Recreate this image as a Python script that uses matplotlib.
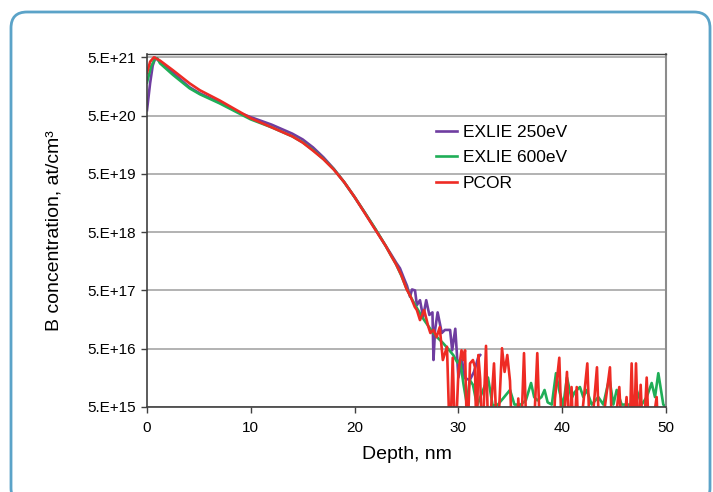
import matplotlib
matplotlib.use("Agg")
import matplotlib.pyplot as plt
from matplotlib.patches import FancyBboxPatch
from matplotlib.transforms import IdentityTransform
from matplotlib.ticker import FixedLocator, NullLocator

plt.rcParams['font.family'] = ['Liberation Sans', 'DejaVu Sans']

# ---------------- data ----------------
series_names = ["EXLIE 250eV", "EXLIE 600eV", "PCOR"]
series_colors = ["#6f3da0", "#1fae57", "#ee2b24"]

p_depth = [0.0, 0.3, 0.55, 0.8, 1.25, 2.5, 4.1, 5.1, 7.0, 9.0,
           10.0, 12.0, 14.0, 15.0, 16.0, 17.0, 18.0, 19.0, 20.0, 21.0,
           22.0, 23.0, 23.5, 24.0, 24.37, 24.76, 25.05, 25.34, 25.53, 25.82,
           26.0, 26.3, 26.6, 26.9, 27.2, 27.5, 27.6, 27.75, 28.0, 28.4,
           28.7, 29.2, 29.4, 29.7, 30.0, 30.35, 30.6, 31.1, 31.5, 31.9,
           32.1]
p_conc = [6.2e20, 1.8e21, 3.6e21, 4.9e21, 4.2e21, 2.7e21, 1.53e21, 1.2e21, 8.4e20, 5.5e20,
          4.7e20, 3.5e20, 2.45e20, 1.95e20, 1.42e20, 9.6e19, 6.1e19, 3.6e19, 2.0e19, 1.07e19,
          5.6e18, 2.9e18, 2.1e18, 1.5e18, 1.2e18, 8.0e17, 6.0e17, 3.9e17, 5.2e17, 5.0e17,
          2.8e17, 3.4e17, 1.75e17, 3.4e17, 1.9e17, 2.1e17, 3.2e16, 1.05e17, 2.1e17, 9.3e16,
          1.05e17, 1.05e17, 4.7e16, 1.1e17, 1.6e16, 3.2e16, 1.57e16, 1.45e16, 2.0e16, 3.5e16,
          3.9e16]

g_depth = [0.0, 0.4, 0.8, 1.0, 1.25, 2.5, 4.1, 5.1, 7.0, 9.0,
           10.0, 12.0, 14.0, 15.0, 16.0, 17.0, 18.0, 19.0, 20.0, 21.0,
           22.0, 23.0, 23.5, 24.0, 24.5, 25.0, 25.5, 26.0, 26.5, 27.0,
           27.5, 28.0, 28.5, 29.0, 29.5, 29.9, 30.15, 30.5, 30.8, 31.1,
           31.4, 31.8, 32.3, 32.85, 33.3, 33.8, 34.3, 34.97, 35.4, 36.0,
           36.5, 37.0, 37.3, 37.6, 38.0, 38.3, 38.6, 39.0, 39.4, 39.75,
           40.1, 40.46, 40.9, 41.2, 41.71, 42.03, 42.36, 42.84, 43.48, 43.96,
           44.54, 44.93, 45.25, 45.73, 46.69, 47.17, 47.66, 48.14, 48.62, 48.94,
           49.26, 49.74, 50.0]
g_conc = [1.85e21, 3.5e21, 4.8e21, 4.8e21, 3.95e21, 2.5e21, 1.47e21, 1.16e21, 8.1e20, 5.3e20,
          4.3e20, 3.15e20, 2.2e20, 1.74e20, 1.28e20, 9.0e19, 6.0e19, 3.6e19, 2.0e19, 1.07e19,
          5.7e18, 2.9e18, 2.0e18, 1.4e18, 9.0e17, 5.4e17, 3.6e17, 2.5e17, 1.75e17, 1.3e17,
          9.7e16, 7.7e16, 6.3e16, 5.0e16, 3.9e16, 2.9e16, 3.2e16, 1.2e16, 5.8e15, 1.45e16,
          1.2e16, 5.3e15, 9.0e15, 1.6e16, 5.3e15, 5.5e15, 7.0e15, 9.8e15, 5.5e15, 5.5e15,
          6.5e15, 1.29e16, 7.4e15, 6.5e15, 7.4e15, 9.8e15, 6.0e15, 5.5e15, 1.9e16, 9.0e15,
          5.3e15, 1.6e16, 7.0e15, 9.0e15, 1.1e16, 7.4e15, 9.8e15, 5.5e15, 7.4e15, 5.5e15,
          1.57e16, 5.5e15, 9.8e15, 5.5e15, 5.5e15, 9.8e15, 5.5e15, 7.4e15, 1.29e16, 7.4e15,
          1.9e16, 5.5e15, 5.0e15]

r_depth = [0.0, 0.3, 0.67, 1.25, 2.5, 4.1, 5.1, 7.0, 9.0, 10.0,
           12.0, 14.0, 15.0, 16.0, 17.0, 18.0, 19.0, 20.0, 21.0, 22.0,
           23.0, 23.5, 24.0, 24.5, 25.0, 25.4, 25.8, 26.0, 26.3, 26.7,
           27.1, 27.3, 27.6, 27.9, 28.2, 28.5, 28.9, 29.19, 29.45, 29.7,
           30.0, 30.3, 30.47, 30.64, 30.85, 31.12, 31.4, 31.6, 31.75, 31.92,
           32.1, 32.3, 32.66, 32.9, 33.43, 33.75, 34.2, 34.45, 34.71, 34.97,
           35.2, 35.6, 35.77, 36.0, 36.32, 36.6, 37.2, 37.6, 37.9, 39.1,
           39.3, 39.72, 40.0, 40.46, 40.7, 40.9, 41.1, 41.4, 41.6, 42.42,
           42.7, 43.35, 43.6, 44.6, 44.85, 45.5, 45.8, 46.2, 46.45, 46.69,
           46.9, 47.11, 47.35, 47.56, 47.8, 48.14, 48.4, 49.1, 49.3, 50.0]
r_conc = [2.7e21, 4.2e21, 5.0e21, 4.4e21, 3.0e21, 1.79e21, 1.36e21, 9.1e20, 5.7e20, 4.5e20,
          3.15e20, 2.2e20, 1.72e20, 1.25e20, 8.9e19, 5.9e19, 3.6e19, 2.0e19, 1.05e19, 5.5e18,
          2.9e18, 2.0e18, 1.4e18, 9.2e17, 5.3e17, 3.9e17, 2.6e17, 2.3e17, 1.55e17, 2.3e17,
          1.2e17, 9.3e16, 1.05e17, 7.9e16, 1.17e17, 3.2e16, 5.4e16, 1e15, 3.5e16, 1e15,
          2.0e16, 4.7e16, 3.2e16, 4.7e16, 1e15, 2.8e16, 3.2e16, 2.4e16, 1e15, 3.9e16,
          1.5e16, 1e15, 5.6e16, 1e15, 2.8e16, 1e15, 5.1e16, 2.0e16, 3.9e16, 1.4e16,
          1e15, 1e15, 7e15, 1e15, 4.2e16, 1e15, 1e15, 4.2e16, 1e15, 1e15,
          7e15, 3.5e16, 1e15, 2.0e16, 1e15, 1.1e16, 1e15, 1.1e16, 1e15, 2.8e16,
          1e15, 2.4e16, 1e15, 2.4e16, 1e15, 1.1e16, 1e15, 7.4e15, 1e15, 2.8e16,
          1e15, 2.8e16, 1e15, 1.2e16, 1e15, 1.6e16, 1e15, 7.4e15, 1e15, 1e15]

x_ticks = [0, 10, 20, 30, 40, 50]
y_ticks = [5e15, 5e16, 5e17, 5e18, 5e19, 5e20, 5e21]
y_tick_labels = ["5.E+15", "5.E+16", "5.E+17", "5.E+18", "5.E+19", "5.E+20", "5.E+21"]

# ---------------- figure ----------------
W, H = 713, 492
fig = plt.figure(figsize=(W / 100, H / 100), dpi=100)
fig.patch.set_facecolor("white")

# rounded frame
frame = FancyBboxPatch((11, -12), 699, 492,
                       boxstyle="round,pad=0,rounding_size=16",
                       transform=IdentityTransform(), fill=False,
                       edgecolor="#5ba3c8", linewidth=2.0)
fig.add_artist(frame)

ax_left, ax_right, ax_top, ax_bottom = 147, 666, 54, 407
ax = fig.add_axes([ax_left / W, 1 - ax_bottom / H,
                   (ax_right - ax_left) / W, (ax_bottom - ax_top) / H])

for d, c, name, col in zip([p_depth, g_depth, r_depth], [p_conc, g_conc, r_conc],
                           series_names, series_colors):
    ax.plot(d, c, color=col, lw=1.9, label=name, solid_joinstyle="round")

ax.set_yscale("log")
ax.set_xlim(0, 50)
ax.set_ylim(5e15, 5.7e21)
ax.yaxis.set_major_locator(FixedLocator(y_ticks))
ax.yaxis.set_minor_locator(NullLocator())
ax.set_yticklabels(y_tick_labels)
ax.set_xticks(x_ticks)
ax.set_xticklabels([str(t) for t in x_ticks])

ax.grid(axis="y", color="#a6a6a6", lw=1.2)
ax.set_axisbelow(True)
for s in ["left", "bottom"]:
    ax.spines[s].set_color("#404040")
    ax.spines[s].set_linewidth(1.2)
ax.spines["top"].set_color("#404040")
ax.spines["top"].set_linewidth(1.0)
ax.spines["right"].set_color("#8c8c8c")
ax.spines["right"].set_linewidth(1.5)

ax.tick_params(axis="both", direction="out", length=4, width=1.0, color="#404040",
               labelsize=11, labelcolor="black")
ax.tick_params(axis="x", pad=6)
ax.tick_params(axis="y", pad=4)

ax.set_xlabel("Depth, nm", fontsize=14, labelpad=8)
ax.set_ylabel("B concentration, at/cm\u00b3", fontsize=14)
ax.yaxis.set_label_coords(-0.163, 0.5)

leg = ax.legend(loc="upper left", bbox_to_anchor=(0.557, 0.80), frameon=False,
                fontsize=12.5, handlelength=1.2, handletextpad=0.35,
                labelspacing=0.6, borderpad=0, borderaxespad=0)
for line in leg.get_lines():
    line.set_linewidth(1.9)

fig.savefig("out.png", dpi=100, facecolor="white")
